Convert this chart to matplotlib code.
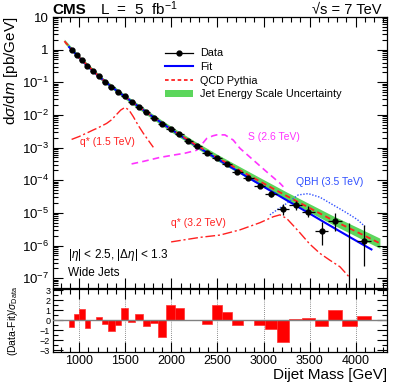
import numpy as np
import matplotlib
matplotlib.use('Agg')
import matplotlib.pyplot as plt
from matplotlib.lines import Line2D
from matplotlib.patches import Patch
from matplotlib.ticker import FixedLocator, MultipleLocator, NullFormatter, FixedFormatter

plt.rcParams['font.family'] = ['Liberation Sans', 'DejaVu Sans']
plt.rcParams['mathtext.fontset'] = 'custom'
plt.rcParams['mathtext.rm'] = 'Liberation Sans'
plt.rcParams['mathtext.it'] = 'Liberation Sans:italic'
plt.rcParams['mathtext.bf'] = 'Liberation Sans:bold'

# ---------------- data ----------------
bin_edges = [890, 944, 1000, 1058, 1118, 1181, 1246, 1313, 1383, 1455, 1530, 1607,
             1687, 1770, 1856, 1945, 2037, 2132, 2231, 2332, 2438, 2546, 2659, 2775,
             2895, 3019, 3147, 3279, 3416, 3558, 3704, 3854, 4010, 4171]
bin_centers = [917, 972, 1029, 1088, 1150, 1214, 1280, 1348, 1419, 1492, 1568, 1647,
               1728, 1813, 1900, 1991, 2084, 2181, 2281, 2385, 2492, 2602, 2717, 2835,
               2957, 3083, 3213, 3347, 3487, 3631, 3779, 3932, 4093]
data = [1.0, 0.686, 0.470, 0.314, 0.219, 0.152, 0.1045, 0.0735, 0.0517, 0.0375, 0.0257,
        0.0179, 0.0121, 0.0082, 0.0054, 0.0038, 0.00253, 0.00164, 0.00108, 7.0e-4,
        4.9e-4, 3.16e-4, 1.78e-4, 1.17e-4, 6.8e-5, 3.8e-5, 1.29e-5, 1.74e-5, 1.10e-5,
        2.8e-6, 5.75e-6, 0.0, 1.38e-6]
err_lo = [1.9e-3, 1.6e-3, 1.3e-3, 1.0e-3, 8.3e-4, 6.8e-4, 5.6e-4, 4.6e-4, 3.8e-4, 3.2e-4,
          2.6e-4, 2.1e-4, 1.7e-4, 1.4e-4, 1.1e-4, 9.0e-5, 7.3e-5, 5.7e-5, 4.6e-5, 3.6e-5,
          3.0e-5, 2.4e-5, 1.8e-5, 1.4e-5, 1.05e-5, 7.7e-6, 4.2e-6, 4.8e-6, 3.7e-6,
          1.75e-6, 3.05e-6, 0.0, 1.15e-6]
err_hi = [1.9e-3, 1.6e-3, 1.3e-3, 1.0e-3, 8.3e-4, 6.8e-4, 5.6e-4, 4.6e-4, 3.8e-4, 3.2e-4,
          2.6e-4, 2.1e-4, 1.7e-4, 1.4e-4, 1.1e-4, 9.0e-5, 7.3e-5, 5.7e-5, 4.6e-5, 3.6e-5,
          3.0e-5, 2.4e-5, 1.8e-5, 1.4e-5, 1.05e-5, 7.7e-6, 5.8e-6, 6.2e-6, 5.2e-6,
          2.6e-6, 4.0e-6, 4.8e-6, 2.9e-6]

fit_mass = [890, 917, 972, 1029, 1088, 1150, 1214, 1280, 1348, 1419, 1492, 1568, 1647,
            1728, 1813, 1900, 1991, 2084, 2181, 2281, 2385, 2492, 2602, 2717, 2835,
            2957, 3083, 3213, 3347, 3487, 3631, 3779, 3932, 4093, 4171]
fit_vals = [1.20, 1.0, 0.684, 0.468, 0.316, 0.219, 0.151, 0.105, 0.0741, 0.0519, 0.0372,
            0.0257, 0.0178, 0.0122, 0.00822, 0.00556, 0.00372, 0.00248, 0.00164, 0.00108,
            7.08e-4, 4.62e-4, 2.99e-4, 1.91e-4, 1.20e-4, 7.50e-5, 4.62e-5, 2.82e-5,
            1.70e-5, 1.0e-5, 5.75e-6, 3.27e-6, 1.84e-6, 1.01e-6, 7.6e-7]

qcd_mass = [838, 1000, 1250, 1500, 1750, 2000, 2250, 2500, 2750, 3000, 3250, 3500, 3750,
            4000, 4263]
qcd_vals = [1.82, 0.575, 0.123, 0.0355, 0.01096, 3.63e-3, 1.29e-3, 4.9e-4, 1.97e-4,
            8.0e-5, 3.31e-5, 1.41e-5, 6.0e-6, 2.72e-6, 1.17e-6]
jes_lo = [1.585, 0.501, 0.1059, 0.0302, 0.00916, 2.985e-3, 1.042e-3, 3.89e-4, 1.538e-4,
          6.17e-5, 2.51e-5, 1.052e-5, 4.40e-6, 1.945e-6, 8.22e-7]
jes_hi = [2.089, 0.661, 0.1429, 0.0417, 0.01312, 4.416e-3, 1.592e-3, 6.17e-4, 2.529e-4,
          1.047e-4, 4.37e-5, 1.897e-5, 8.26e-6, 3.81e-6, 1.679e-6]

qstar15_mass = [917, 1000, 1100, 1152, 1200, 1297, 1350, 1400, 1450, 1496, 1540, 1586,
                1640, 1695, 1750, 1804]
qstar15_vals = [1.78e-3, 2.19e-3, 2.95e-3, 3.47e-3, 3.98e-3, 5.5e-3, 7.08e-3, 0.010,
                0.0141, 0.017, 0.0141, 8.9e-3, 4.79e-3, 2.75e-3, 1.66e-3, 1.02e-3]

s26_mass = [1568, 1700, 1876, 2000, 2150, 2274, 2310, 2383, 2450, 2491, 2581, 2671, 2744,
            2888, 3033, 3178, 3215]
s26_vals = [3.16e-4, 3.8e-4, 5.0e-4, 5.75e-4, 6.76e-4, 8.3e-4, 1.07e-3, 1.9e-3, 2.29e-3,
            2.45e-3, 2.45e-3, 1.7e-3, 9.5e-4, 4.17e-4, 1.82e-4, 8.1e-5, 6.3e-5]

qbh35_mass = [3069, 3160, 3251, 3377, 3485, 3612, 3757, 3850, 3938, 4020, 4101]
qbh35_vals = [8.7e-6, 1.32e-5, 1.95e-5, 3.55e-5, 3.89e-5, 3.02e-5, 1.74e-5, 1.23e-5,
              8.7e-6, 6.17e-6, 3.8e-6]

qstar32_mass = [1997, 2150, 2311, 2527, 2744, 2961, 3105, 3178, 3251, 3320, 3395, 3500,
                3612, 3720, 3829, 3932]
qstar32_vals = [1.29e-6, 1.51e-6, 1.78e-6, 2.09e-6, 3.02e-6, 5.0e-6, 7.6e-6, 8.7e-6,
                6.76e-6, 4.17e-6, 2.45e-6, 1.12e-6, 5.75e-7, 3.55e-7, 2.24e-7, 1.07e-7]

pulls = [-0.67, 0.67, 1.15, -0.78, 0.0, 0.35, -0.33, -1.1, -0.45, 1.2, -0.13, 0.68, -0.6,
         -0.28, -1.72, 1.58, 1.25, 0.03, 0.0, -0.33, 1.55, 0.82, -0.5, 0.05, -0.5, -0.85,
         -2.2, 0.17, 0.27, -0.6, 1.0, -0.6, 0.45]

ytick_vals = [1e-7, 1e-6, 1e-5, 1e-4, 1e-3, 1e-2, 1e-1, 1, 10]
ytick_labels = [r'$10^{-7}$', r'$10^{-6}$', r'$10^{-5}$', r'$10^{-4}$', r'$10^{-3}$',
                r'$10^{-2}$', r'$10^{-1}$', '1', '10']
xtick_vals = [1000, 1500, 2000, 2500, 3000, 3500, 4000]
rtick_vals = [-3, -2, -1, 0, 1, 2, 3]

# ---------------- figure ----------------
W, H = 399, 387
fig = plt.figure(figsize=(W / 100, H / 100), dpi=100)
L, R = 53 / W, 387 / W
ax = fig.add_axes([L, 1 - 288 / H, R - L, (288 - 17) / H])
axr = fig.add_axes([L, 1 - 352 / H, R - L, (352 - 289) / H], sharex=ax)

green = '#5cd65c'
ax.fill_between(qcd_mass, jes_lo, jes_hi, color=green, lw=0, zorder=1)
ax.plot(qcd_mass, qcd_vals, color='#ff2020', ls=(0, (3, 2)), lw=1.3, zorder=3)
ax.plot(fit_mass, fit_vals, color='#0000ff', lw=1.5, zorder=2)

edges = np.array(bin_edges, dtype=float)
centers = np.array(bin_centers, dtype=float)
xerr = [centers - edges[:-1], edges[1:] - centers]
ax.errorbar(centers, data, yerr=[err_lo, err_hi], xerr=xerr, fmt='o', color='black',
            ms=3.5, elinewidth=0.9, capsize=0, zorder=5)

dashdot = (0, (7, 2, 1.5, 2))
ax.plot(qstar15_mass, qstar15_vals, color='#ff2020', ls=dashdot, lw=1.0, zorder=4)
ax.plot(qstar32_mass, qstar32_vals, color='#ff2020', ls=dashdot, lw=1.0, zorder=4)
ax.plot(s26_mass, s26_vals, color='#ff33ff', ls=(0, (4, 2.5)), lw=1.2, zorder=4)
ax.plot(qbh35_mass, qbh35_vals, color='#3050ff', ls=(0, (1, 1.2)), lw=1.0, zorder=4)

ax.set_yscale('log')
ax.set_xlim(715, 4340)
ax.set_ylim(5e-8, 10)

ax.yaxis.set_major_locator(FixedLocator(ytick_vals))
ax.yaxis.set_major_formatter(FixedFormatter(ytick_labels))
ax.yaxis.set_minor_locator(matplotlib.ticker.LogLocator(base=10, subs=np.arange(2, 10)))
ax.yaxis.set_minor_formatter(NullFormatter())
ax.xaxis.set_major_locator(MultipleLocator(500))
ax.xaxis.set_minor_locator(MultipleLocator(100))
ax.tick_params(axis='both', which='both', direction='in', top=True, right=True)
ax.tick_params(which='major', length=7, width=0.8)
ax.tick_params(which='minor', length=3.5, width=0.8)
ax.tick_params(axis='x', labelbottom=False)
ax.tick_params(axis='y', labelsize=9.5, pad=3)

ax.set_ylabel(r'd$\sigma$/d$m$ [pb/GeV]', fontsize=11, loc='top')
ax.yaxis.set_label_coords(-0.100, 1.0)

# legend
h_data = Line2D([], [], color='black', lw=0.9, marker='o', ms=3.5)
h_fit = Line2D([], [], color='#0000ff', lw=1.5)
h_qcd = Line2D([], [], color='#ff2020', ls=(0, (2, 1.5)), lw=1.3)
h_jes = Patch(facecolor=green, edgecolor='none')
leg = ax.legend([h_data, h_fit, h_qcd, h_jes],
                ['Data', 'Fit', 'QCD Pythia', 'Jet Energy Scale Uncertainty'],
                loc='upper left', bbox_to_anchor=(0.335, 0.884), frameon=False,
                fontsize=7.8, handlelength=2.6, handletextpad=0.65, labelspacing=0.33,
                borderaxespad=0, borderpad=0)

# annotations
ax.text(0.081, 0.537, 'q* (1.5 TeV)', color='#ff2020', fontsize=7.5,
        transform=ax.transAxes, va='center')
ax.text(0.584, 0.558, 'S (2.6 TeV)', color='#ff33ff', fontsize=7.5,
        transform=ax.transAxes, va='center')
ax.text(0.728, 0.390, 'QBH (3.5 TeV)', color='#3050ff', fontsize=7.5,
        transform=ax.transAxes, va='center')
ax.text(0.353, 0.239, 'q* (3.2 TeV)', color='#ff2020', fontsize=7.5,
        transform=ax.transAxes, va='center')
ax.text(0.045, 0.122, r'|$\eta$| < 2.5, |$\Delta\eta$| < 1.3', fontsize=8.5,
        transform=ax.transAxes, va='center')
ax.text(0.045, 0.054, 'Wide Jets', fontsize=8.5, transform=ax.transAxes, va='center')

# header
fig.text(52 / W, 1 - 14.5 / H, 'CMS', fontsize=11, fontweight='bold', va='baseline')
fig.text(100 / W, 1 - 14.5 / H, r'L  =  5  fb$^{-1}$', fontsize=11, va='baseline')
fig.text(382 / W, 1 - 14.5 / H, '√s = 7 TeV', fontsize=10.5, va='baseline', ha='right')

# ---------------- ratio panel ----------------
widths = edges[1:] - edges[:-1]
axr.bar(edges[:-1], pulls, width=widths, align='edge', color='#ff0000',
        edgecolor='#ff3030', lw=0.5, zorder=2)
axr.axhline(0, color='#808080', lw=1.0, zorder=3)
for xv in xtick_vals:
    axr.axvline(xv, color='black', ls=(0, (1, 1.5)), lw=0.6, alpha=0.6, zorder=1)
axr.set_ylim(-3.2, 3.15)
axr.yaxis.set_major_locator(FixedLocator(rtick_vals))
axr.yaxis.set_minor_locator(MultipleLocator(0.5))
axr.tick_params(axis='both', which='both', direction='in', top=True, right=True)
axr.tick_params(which='major', length=7, width=0.8)
axr.tick_params(which='minor', length=3.5, width=0.8)
axr.tick_params(axis='y', labelsize=6.5, pad=2)
axr.tick_params(axis='x', labelsize=9, pad=2.5)
axr.set_xticks(xtick_vals)
axr.xaxis.set_minor_locator(MultipleLocator(100))
axr.set_xlim(715, 4340)
axr.set_ylabel(r'(Data-Fit)/$\sigma_{\rm Data}$', fontsize=7.5)
axr.yaxis.set_label_coords(-0.098, 0.5)
axr.set_xlabel('Dijet Mass [GeV]', fontsize=11, loc='right')
axr.xaxis.set_label_coords(1.0, -0.25)

for a in (ax, axr):
    for s in a.spines.values():
        s.set_linewidth(0.9)

fig.savefig('out.png', dpi=100)
